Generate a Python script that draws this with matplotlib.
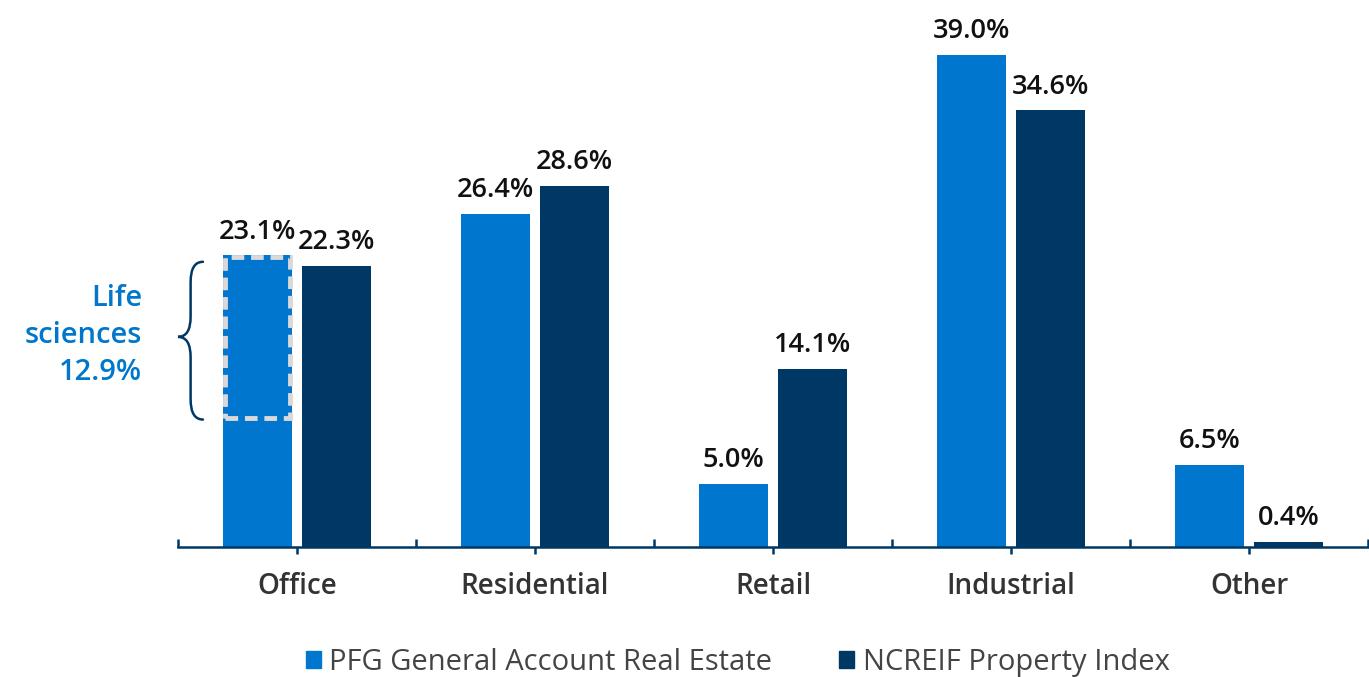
import matplotlib
matplotlib.use("Agg")
import matplotlib.pyplot as plt
import numpy as np
from matplotlib.patches import Rectangle, Patch, PathPatch
from matplotlib.path import Path

categories = ["Office", "Residential", "Retail", "Industrial", "Other"]
pfg = [23.1, 26.4, 5.0, 39.0, 6.5]
ncreif = [22.3, 28.6, 14.1, 34.6, 0.4]
series_names = ["PFG General Account Real Estate", "NCREIF Property Index"]
life_sciences = 12.9
life_label = "Life\nsciences\n12.9%"

LIGHT = "#0076CF"
DARK = "#003865"
FONT = "Open Sans"

plt.rcParams['font.family'] = [FONT, 'DejaVu Sans']

fig = plt.figure(figsize=(13.69, 6.77), dpi=100)
ax = fig.add_axes([178/1369, 130/677, 1190/1369, (547-29.6)/677])

x = np.arange(len(categories))
bw = 0.294
off = 0.166
b1 = ax.bar(x - off, pfg, bw, color=LIGHT, zorder=2)
b2 = ax.bar(x + off, ncreif, bw, color=DARK, zorder=2)

ax.set_xlim(-0.5, len(categories) - 0.5)
ax.set_ylim(0, 41)

for rects, vals in ((b1, pfg), (b2, ncreif)):
    for r, v in zip(rects, vals):
        ax.annotate(f"{v:.1f}%", (r.get_x() + r.get_width()/2, v),
                    xytext=(0, 7), textcoords="offset points",
                    ha="center", va="bottom", fontsize=19.5, fontweight="semibold",
                    color="#111111")

# dashed life sciences box
r0 = b1[0]
ax.add_patch(Rectangle((r0.get_x() + 0.012, pfg[0] - life_sciences),
                       r0.get_width() - 0.024, life_sciences - 0.15,
                       fill=False, edgecolor="#D9D9D9", lw=3.5,
                       linestyle=(0, (2.6, 1.4)), zorder=3))

# brace
top = pfg[0] - 0.5
bot = pfg[0] - life_sciences - 0.1
mid = (top + bot) / 2 + 0.3
xr, xs, xt = -0.395, -0.447, -0.5
rr = 1.6
verts = [(xr, top), (xs, top), (xs, top - rr),
         (xs, mid + rr), (xs, mid), (xt, mid),
         (xs, mid), (xs, mid - rr),
         (xs, bot + rr), (xs, bot), (xr, bot)]
codes = [Path.MOVETO, Path.CURVE3, Path.CURVE3,
         Path.LINETO, Path.CURVE3, Path.CURVE3,
         Path.CURVE3, Path.CURVE3,
         Path.LINETO, Path.CURVE3, Path.CURVE3]
ax.add_patch(PathPatch(Path(verts, codes), fill=False, edgecolor=DARK,
                       lw=1.8, clip_on=False, capstyle="round"))

ax.text(-0.651, mid + 0.1, life_label, ha="right", va="center", fontsize=21,
        fontweight="semibold", color="#0077CC", linespacing=1.36)

# axes styling
for s in ("top", "right", "left"):
    ax.spines[s].set_visible(False)
ax.spines["bottom"].set_color(DARK)
ax.spines["bottom"].set_linewidth(1.8)
ax.set_yticks([])
ax.set_xticks(np.arange(-0.5, len(categories)), minor=False)
ax.set_xticklabels([])
ax.tick_params(axis="x", which="major", direction="in", length=6, width=1.8, color=DARK)
ax.set_xticks(x, minor=True)
ax.set_xticklabels(categories, minor=True)
ax.tick_params(axis="x", which="minor", direction="out", length=5, width=1.8,
               color=DARK, labelsize=20, pad=13, labelcolor="#333333")
for t in ax.get_xticklabels(minor=True):
    t.set_fontweight("semibold")

handles = [Patch(color=LIGHT), Patch(color=DARK)]
fig.legend(handles, series_names, loc="center", bbox_to_anchor=(0.539, 0.022),
           ncol=2, frameon=False, fontsize=21, handlelength=0.5, handleheight=0.5,
           handletextpad=0.3, columnspacing=2.3, labelcolor="#444444")

fig.savefig("out.png", dpi=100)
